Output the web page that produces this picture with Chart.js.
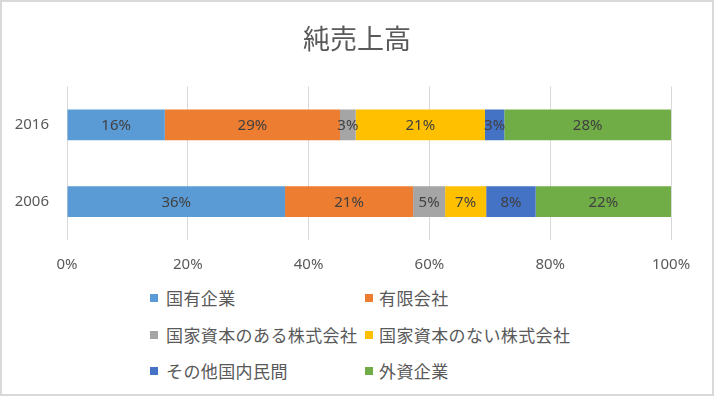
<!DOCTYPE html>
<html lang="ja">
<head>
<meta charset="utf-8">
<script src="https://cdn.jsdelivr.net/npm/chart.js@4"></script>
<style>
  html, body { margin: 0; padding: 0; background: #fff; }
  #frame {
    position: relative;
    width: 714px;
    height: 396px;
    box-sizing: border-box;
    border: 2px solid #d9d9d9;
    overflow: hidden;
  }
  #chart { position: absolute; left: -2px; top: -2px; }
  #legend {
    position: absolute;
    left: 0; top: 0;
    font-family: "Noto Sans CJK JP", sans-serif;
    font-size: 17px;
    letter-spacing: 0.4px;
    color: #595959;
  }
  #legend .item {
    position: absolute;
    white-space: nowrap;
    line-height: 20px;
  }
  #legend .swatch {
    position: absolute;
    width: 8px;
    height: 8px;
    top: 6px;
  }
</style>
</head>
<body>
<div id="frame">
  <canvas id="chart" width="714" height="285"></canvas>
  <div id="legend"></div>
</div>
<script>
const CATEGORIES = ['2016', '2006'];
const SERIES_NAMES = [
  '国有企業', '有限会社',
  '国家資本のある株式会社', '国家資本のない株式会社',
  'その他国内民間', '外資企業'
];
const COLORS = ['#5b9bd5', '#ed7d31', '#a5a5a5', '#ffc000', '#4472c4', '#70ad47'];

// shares in percent, [2016, 2006]
const STATE_OWNED = [16.2, 36.1];
const LIMITED = [29.0, 21.2];
const JSC_STATE = [2.6, 5.3];
const JSC_PRIVATE = [21.4, 6.8];
const OTHER_DOMESTIC = [3.2, 8.2];
const FOREIGN = [27.6, 22.4];

const X_TICKS = [0, 20, 40, 60, 80, 100];

const SERIES_VALUES = [STATE_OWNED, LIMITED, JSC_STATE, JSC_PRIVATE, OTHER_DOMESTIC, FOREIGN];

const LATIN = '"Noto Sans", "Noto Sans CJK JP", sans-serif';
const CJK = '"Noto Sans CJK JP", sans-serif';

// Draws the rounded percentage in the middle of every bar segment.
const segmentLabels = {
  id: 'segmentLabels',
  afterDatasetsDraw(chart) {
    const ctx = chart.ctx;
    ctx.save();
    ctx.font = '15px ' + LATIN;
    ctx.fillStyle = '#404040';
    ctx.textAlign = 'center';
    ctx.textBaseline = 'middle';
    chart.data.datasets.forEach((ds, i) => {
      const meta = chart.getDatasetMeta(i);
      meta.data.forEach((bar, j) => {
        const cx = (bar.x + bar.base) / 2;
        ctx.fillText(Math.round(ds.data[j]) + '%', cx, bar.y + 1);
      });
    });
    ctx.restore();
  }
};

function renderLegend() {
  const legend = document.getElementById('legend');
  const colX = [148, 363];
  const rowY = [286, 323, 359];
  SERIES_NAMES.forEach((name, i) => {
    const item = document.createElement('div');
    item.className = 'item';
    item.style.left = colX[i % 2] + 'px';
    item.style.top = rowY[Math.floor(i / 2)] + 'px';
    item.style.paddingLeft = (i % 2 === 0 ? 16 : 14) + 'px';

    const swatch = document.createElement('span');
    swatch.className = 'swatch';
    swatch.style.left = '0px';
    swatch.style.backgroundColor = COLORS[i];

    item.appendChild(swatch);
    item.append(name);
    legend.appendChild(item);
  });
}

new Chart(document.getElementById('chart'), {
  type: 'bar',
  data: {
    labels: CATEGORIES,
    datasets: SERIES_NAMES.map((name, i) => ({
      label: name,
      data: SERIES_VALUES[i],
      backgroundColor: COLORS[i],
      borderWidth: 0,
      categoryPercentage: 1,
      barPercentage: 0.4
    }))
  },
  options: {
    indexAxis: 'y',
    responsive: false,
    animation: false,
    layout: { padding: 0 },
    scales: {
      x: {
        stacked: true,
        min: 0,
        max: 100,
        afterBuildTicks: scale => { scale.ticks = X_TICKS.map(v => ({ value: v })); },
        afterFit: scale => { scale.height = 45; },
        ticks: {
          padding: 16,
          color: '#595959',
          font: { family: LATIN, size: 15 },
          callback: v => v + '%'
        },
        grid: { color: '#d9d9d9', lineWidth: 1, drawTicks: false },
        border: { display: false }
      },
      y: {
        stacked: true,
        afterFit: scale => { scale.width = 67; },
        ticks: {
          padding: 18,
          color: '#595959',
          font: { family: LATIN, size: 15 }
        },
        grid: { display: false, drawTicks: false },
        border: { display: false }
      },
      // empty axis on the right, only to keep the plot clear of the frame edge
      yRight: {
        position: 'right',
        afterFit: scale => { scale.width = 43; },
        ticks: { display: false },
        grid: { display: false, drawTicks: false },
        border: { display: false }
      }
    },
    plugins: {
      legend: { display: false },
      tooltip: { enabled: false },
      title: {
        display: true,
        text: '純売上高',
        color: '#595959',
        font: { family: CJK, size: 27, weight: 'normal', lineHeight: 1.2 },
        padding: { top: 23, bottom: 31 }
      }
    }
  },
  plugins: [segmentLabels]
});

renderLegend();
</script>
</body>
</html>
